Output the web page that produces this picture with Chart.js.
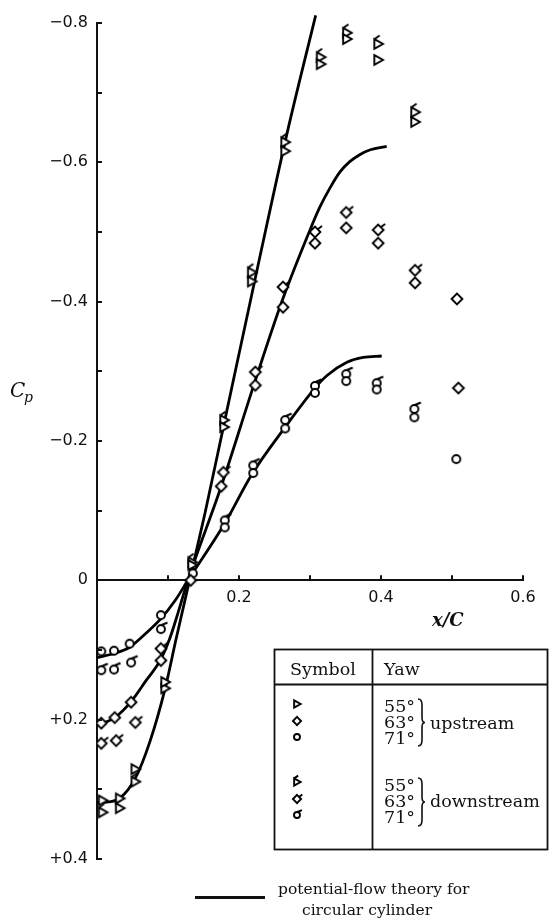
<!DOCTYPE html>
<html><head><meta charset="utf-8">
<script src="https://cdn.jsdelivr.net/npm/chart.js@4/dist/chart.umd.min.js"></script>
<style>html,body{margin:0;padding:0;background:#fff;}#wrap{width:551px;height:922px;position:relative;}</style>
</head><body><div id="wrap"><canvas id="c" width="551" height="922"></canvas></div>
<script>
// ---- tick labels ----
const yTickValues = [-0.8, -0.6, -0.4, -0.2, 0, 0.2, 0.4];
const yTickLabels = ['\u22120.8', '\u22120.6', '\u22120.4', '\u22120.2', '0', '+0.2', '+0.4'];
const xTickValues = [0.2, 0.4, 0.6];
const xTickLabels = ['0.2', '0.4', '0.6'];
const yTickMarks = [-0.8, -0.7, -0.6, -0.5, -0.4, -0.3, -0.2, -0.1, 0.1, 0.2, 0.3, 0.4];
const xTickMarks = [0.1, 0.2, 0.3, 0.4, 0.5, 0.6];

// ---- potential-flow theory curves ----
const theory55X = [0, 0.016, 0.032, 0.054, 0.075, 0.096, 0.111, 0.131, 0.152, 0.183, 0.227, 0.268, 0.308];
const theory55Y = [0.319, 0.318, 0.313, 0.284, 0.230, 0.155, 0.086, -0.003, -0.096, -0.244, -0.453, -0.643, -0.811];
const theory63X = [0, 0.025, 0.048, 0.069, 0.089, 0.103, 0.114, 0.128, 0.175, 0.223, 0.261, 0.300, 0.314, 0.328, 0.342, 0.356, 0.370, 0.385, 0.408];
const theory63Y = [0.208, 0.197, 0.174, 0.144, 0.115, 0.082, 0.047, 0.0, -0.135, -0.287, -0.402, -0.503, -0.536, -0.563, -0.586, -0.601, -0.611, -0.618, -0.623];
const theory71X = [0, 0.024, 0.046, 0.069, 0.090, 0.110, 0.128, 0.180, 0.218, 0.265, 0.307, 0.324, 0.352, 0.375, 0.401];
const theory71Y = [0.111, 0.105, 0.096, 0.076, 0.055, 0.029, 0.0, -0.082, -0.152, -0.220, -0.276, -0.294, -0.313, -0.320, -0.322];

// ---- measurements ----
const up55X = [0.008, 0.032, 0.054, 0.096, 0.134, 0.179, 0.218, 0.265, 0.315, 0.352, 0.396, 0.448];
const up55Y = [0.316, 0.313, 0.271, 0.146, -0.022, -0.220, -0.429, -0.616, -0.741, -0.777, -0.747, -0.658];
const ds55X = [0.008, 0.032, 0.054, 0.096, 0.134, 0.179, 0.218, 0.265, 0.315, 0.352, 0.396, 0.448];
const ds55Y = [0.333, 0.327, 0.289, 0.155, -0.026, -0.230, -0.442, -0.629, -0.751, -0.786, -0.770, -0.672];
const up63X = [0.006, 0.025, 0.048, 0.090, 0.132, 0.175, 0.223, 0.262, 0.307, 0.351, 0.396, 0.448, 0.507, 0.509];
const up63Y = [0.205, 0.197, 0.175, 0.115, 0.000, -0.135, -0.280, -0.392, -0.484, -0.506, -0.484, -0.427, -0.404, -0.276];
const ds63X = [0.006, 0.027, 0.054, 0.090, 0.178, 0.223, 0.262, 0.307, 0.351, 0.396, 0.448];
const ds63Y = [0.234, 0.230, 0.204, 0.098, -0.155, -0.299, -0.421, -0.500, -0.528, -0.503, -0.445];
const up71X = [0.006, 0.024, 0.046, 0.090, 0.135, 0.180, 0.220, 0.265, 0.307, 0.351, 0.394, 0.447, 0.506];
const up71Y = [0.102, 0.101, 0.091, 0.050, -0.010, -0.076, -0.154, -0.218, -0.269, -0.286, -0.274, -0.234, -0.174];
const ds71X = [0.006, 0.024, 0.048, 0.090, 0.180, 0.220, 0.265, 0.307, 0.351, 0.394, 0.447];
const ds71Y = [0.129, 0.128, 0.118, 0.070, -0.086, -0.165, -0.230, -0.279, -0.296, -0.283, -0.246];

// ---- legend text ----
const legendHeader = ['Symbol', 'Yaw'];
const legendYaw = ['55\u00b0', '63\u00b0', '71\u00b0'];
const legendGroups = ['upstream', 'downstream'];
const theoryLegend = ['potential-flow theory for', 'circular cylinder'];

function pts(xs, ys) { return xs.map((v, i) => ({x: v, y: ys[i]})); }

function makeMarker(shape, downstream, s) {
  const c = document.createElement('canvas');
  c.width = 24; c.height = 24;
  const g = c.getContext('2d');
  g.translate(12, 12);
  g.scale(s, s);
  g.lineWidth = 1.9 / s;
  g.strokeStyle = '#000'; g.fillStyle = '#fff';
  g.beginPath();
  if (shape === 'tri') { g.moveTo(-3.8, -4.8); g.lineTo(4.8, 0); g.lineTo(-3.8, 4.8); g.closePath(); }
  else if (shape === 'dia') { g.moveTo(0, -5.4); g.lineTo(5.4, 0); g.lineTo(0, 5.4); g.lineTo(-5.4, 0); g.closePath(); }
  else { g.arc(0, 0, 4, 0, Math.PI * 2); }
  g.fill(); g.stroke();
  if (downstream) {
    g.beginPath();
    if (shape === 'tri') { g.moveTo(-3.8, -4.8); g.lineTo(1.5, -8.5); }
    else if (shape === 'dia') { g.moveTo(2.7, -2.7); g.lineTo(7, -6); }
    else { g.moveTo(0.5, -4); g.lineTo(6.5, -6.5); }
    g.stroke();
  }
  return c;
}

const shapes = ['tri', 'dia', 'circ'];
const mk = {};
for (const s of shapes) {
  mk[s] = makeMarker(s, false, 1);
  mk[s + 'D'] = makeMarker(s, true, 1);
  mk[s + 'L'] = makeMarker(s, false, 0.75);
  mk[s + 'DL'] = makeMarker(s, true, 0.75);
}

function lineDs(xs, ys) {
  return {type: 'scatter', data: pts(xs, ys), showLine: true, pointRadius: 0, borderColor: '#000',
    borderWidth: 2.8, cubicInterpolationMode: 'monotone', fill: false, clip: 12, order: 10};
}
function markDs(xs, ys, style) {
  return {type: 'scatter', data: pts(xs, ys), showLine: false, pointStyle: style, pointRadius: 5,
    borderColor: '#000', backgroundColor: '#fff', order: 0};
}

function brace(ctx, x, y1, y2) {
  const ym = (y1 + y2) / 2;
  ctx.beginPath();
  ctx.moveTo(x, y1);
  ctx.quadraticCurveTo(x + 4, y1, x + 4, y1 + 6);
  ctx.lineTo(x + 4, ym - 5);
  ctx.quadraticCurveTo(x + 4, ym, x + 7, ym);
  ctx.quadraticCurveTo(x + 4, ym, x + 4, ym + 5);
  ctx.lineTo(x + 4, y2 - 6);
  ctx.quadraticCurveTo(x + 4, y2, x, y2);
  ctx.stroke();
}

const decor = {
  id: 'decor',
  afterDraw(chart) {
    const {ctx} = chart;
    const xs = chart.scales.x, ys = chart.scales.y;
    const x0 = xs.getPixelForValue(0), y0 = ys.getPixelForValue(0);
    ctx.save();
    ctx.strokeStyle = '#111'; ctx.lineWidth = 2;
    for (const v of yTickMarks) {
      const py = Math.round(ys.getPixelForValue(v));
      ctx.beginPath(); ctx.moveTo(x0, py); ctx.lineTo(x0 + 5, py); ctx.stroke();
    }
    for (const v of xTickMarks) {
      const px = Math.round(xs.getPixelForValue(v));
      ctx.beginPath(); ctx.moveTo(px, y0); ctx.lineTo(px, y0 - 5); ctx.stroke();
    }
    // axis titles
    ctx.fillStyle = '#111';
    ctx.textBaseline = 'alphabetic'; ctx.textAlign = 'left';
    ctx.font = 'italic 20px "DejaVu Serif"';
    ctx.fillText('C', 10, 397);
    ctx.font = 'italic 14px "DejaVu Serif"';
    ctx.fillText('p', 24, 402);
    ctx.font = 'italic bold 18px "DejaVu Serif"';
    ctx.fillText('x/C', 432, 626);

    // legend table
    ctx.lineWidth = 1.8;
    ctx.strokeRect(274.5, 649.5, 273, 200);
    ctx.beginPath(); ctx.moveTo(274, 684.5); ctx.lineTo(548, 684.5); ctx.stroke();
    ctx.beginPath(); ctx.moveTo(372.5, 649); ctx.lineTo(372.5, 850); ctx.stroke();
    ctx.font = '17.5px "DejaVu Serif"';
    ctx.textAlign = 'center';
    ctx.fillText(legendHeader[0], 323, 675);
    ctx.textAlign = 'left';
    ctx.fillText(legendHeader[1], 384, 675);
    const rowsUp = [712, 728, 744], rowsDn = [791, 807, 823];
    legendYaw.forEach((t, i) => { ctx.fillText(t, 384, rowsUp[i]); ctx.fillText(t, 384, rowsDn[i]); });
    ctx.lineWidth = 1.6;
    brace(ctx, 418, 699, 746);
    brace(ctx, 418, 778, 826);
    ctx.fillText(legendGroups[0], 430, 729);
    ctx.fillText(legendGroups[1], 430, 807);
    const symUp = [704, 721, 737], symDn = [782, 799, 815];
    shapes.forEach((s, i) => {
      ctx.drawImage(mk[s + 'L'], 297 - 12, symUp[i] - 12);
      ctx.drawImage(mk[s + 'DL'], 297 - 12, symDn[i] - 12);
    });

    // theory legend
    ctx.lineWidth = 3;
    ctx.beginPath(); ctx.moveTo(195, 897.5); ctx.lineTo(265, 897.5); ctx.stroke();
    ctx.font = '15.5px "DejaVu Serif"';
    ctx.textAlign = 'left';
    ctx.fillText(theoryLegend[0], 278, 894);
    ctx.textAlign = 'center';
    ctx.fillText(theoryLegend[1], 367, 915);
    ctx.restore();
  }
};

const tickFont = {family: '"DejaVu Sans"', size: 16};
new Chart(document.getElementById('c'), {
  type: 'scatter',
  data: {
    datasets: [
      lineDs(theory55X, theory55Y),
      lineDs(theory63X, theory63Y),
      lineDs(theory71X, theory71Y),
      markDs(up55X, up55Y, mk.tri),
      markDs(up63X, up63Y, mk.dia),
      markDs(up71X, up71Y, mk.circ),
      markDs(ds55X, ds55Y, mk.triD),
      markDs(ds63X, ds63Y, mk.diaD),
      markDs(ds71X, ds71Y, mk.circD)
    ]
  },
  options: {
    responsive: false, animation: false, devicePixelRatio: 1,
    layout: {padding: {top: 23, right: 28, bottom: 63, left: 0}},
    plugins: {legend: {display: false}, tooltip: {enabled: false}},
    events: [],
    scales: {
      x: {
        type: 'linear', min: 0, max: 0.6, position: {y: 0},
        grid: {display: false, drawTicks: false, tickLength: 0},
        border: {display: true, color: '#111', width: 2},
        ticks: {
          stepSize: 0.2, padding: 8, color: '#111', font: tickFont, maxRotation: 0, autoSkip: false,
          callback: (v) => { const i = xTickValues.indexOf(Math.round(v * 10) / 10); return i >= 0 ? xTickLabels[i] : ''; }
        }
      },
      y: {
        type: 'linear', min: -0.8, max: 0.4, reverse: true, position: 'left',
        afterFit: (s) => { s.width = 97; },
        grid: {display: false, drawTicks: false, tickLength: 0},
        border: {display: true, color: '#111', width: 2},
        ticks: {
          stepSize: 0.2, padding: 9, color: '#111', font: tickFont, autoSkip: false,
          callback: (v) => { const i = yTickValues.indexOf(Math.round(v * 10) / 10); return i >= 0 ? yTickLabels[i] : ''; }
        }
      }
    }
  },
  plugins: [decor]
});
</script></body></html>
